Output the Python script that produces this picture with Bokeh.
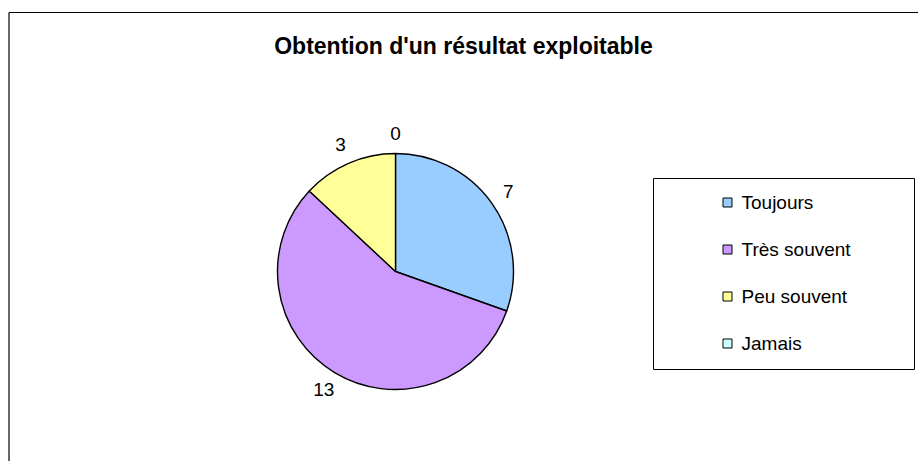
import math
from bokeh.plotting import figure
from bokeh.models import ColumnDataSource
from bokeh.core.properties import value
from bokeh.embed import file_html
from bokeh.resources import INLINE

# ---- data ----
title_text = "Obtention d'un résultat exploitable"
categories = ["Toujours", "Très souvent", "Peu souvent", "Jamais"]
counts = [7, 13, 3, 0]
colors = ["#99CCFF", "#CC99FF", "#FFFF99", "#CCFFFF"]

W, H = 918, 461
FONT = "Liberation Sans"

p = figure(width=W, height=H, x_range=(0, W), y_range=(0, H),
           output_backend="svg", toolbar_location=None,
           x_axis_location=None, y_axis_location=None,
           min_border=0, min_border_left=0, min_border_right=0,
           min_border_top=0, min_border_bottom=0)
p.grid.visible = False
p.outline_line_color = None
p.background_fill_color = "white"
p.border_fill_color = "white"

def px(X):
    return X

def py(Y):
    return H - Y

# chart area border (extends past the window on right/bottom)
p.segment(x0=[px(8.5), px(8.5)], y0=[py(12), py(12)],
          x1=[px(918), px(8.5)], y1=[py(12), py(461)],
          line_color="black", line_width=1.2)

# title
p.text(x=[px(463)], y=[py(45)], text=[title_text],
       text_font=value(FONT), text_font_style="bold", text_font_size="23px",
       text_align="center", text_baseline="middle", text_color="black")

# pie
cx, cy, R = px(395), py(271), 118
total = sum(counts)
starts, ends, mids = [], [], []
cum = 0
for v in counts:
    a0 = math.pi / 2 - 2 * math.pi * cum / total
    cum += v
    a1 = math.pi / 2 - 2 * math.pi * cum / total
    starts.append(a0)
    ends.append(a1)
    mids.append((a0 + a1) / 2)

nz = [i for i, v in enumerate(counts) if v > 0]
src = ColumnDataSource(dict(
    start=[starts[i] for i in nz], end=[ends[i] for i in nz],
    color=[colors[i] for i in nz]))
p.wedge(x=cx, y=cy, radius=R, start_angle="start", end_angle="end",
        direction="clock", fill_color="color", line_color="black",
        line_width=1.4, source=src)

# data labels
LR = 138
p.text(x=[cx + LR * math.cos(m) for m in mids],
       y=[cy + LR * math.sin(m) for m in mids],
       text=[str(v) for v in counts],
       text_font=value(FONT), text_font_size="19px",
       text_align="center", text_baseline="middle", text_color="black")

# legend
bx0, bx1, by0, by1 = px(653), px(914), py(178), py(369)
p.quad(left=[bx0], right=[bx1], bottom=[by1], top=[by0],
       fill_color="white", line_color="black", line_width=1)
row_y = [py(202 + 47 * i) for i in range(len(categories))]
p.rect(x=[px(727)] * len(categories), y=row_y, width=9, height=9,
       fill_color=colors, line_color="black", line_width=1)
p.text(x=[px(741)] * len(categories), y=row_y, text=categories,
       text_font=value(FONT), text_font_size="19px",
       text_align="left", text_baseline="middle", text_color="black")

open("out.html", "w").write(file_html(p, INLINE))
